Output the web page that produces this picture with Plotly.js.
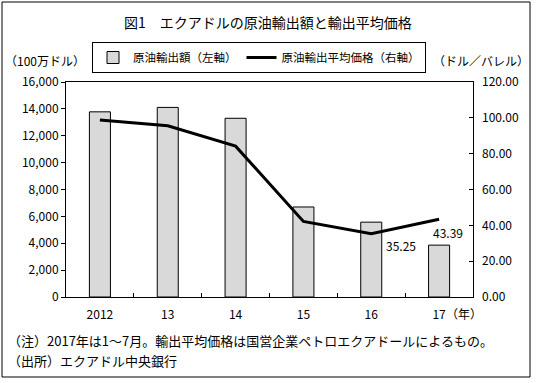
<!DOCTYPE html>
<html>
<head>
<meta charset="utf-8">
<script src="https://cdn.plot.ly/plotly-3.0.1.min.js"></script>
<style>html,body{margin:0;padding:0;background:#fff}#chart{width:536px;height:383px}</style>
</head>
<body>
<div id="chart"></div>
<script>
const years = ["2012", "13", "14", "15", "16", "17"];
const exportValue = [13780, 14110, 13300, 6700, 5570, 3860];   // 100万ドル (left axis)
const avgPrice = [98.8, 95.6, 84.2, 42.2, 35.25, 43.39];        // ドル/バレル (right axis)
const priceLabels = ["", "", "", "", "35.25", "43.39"];
const leftTicks = [0, 2000, 4000, 6000, 8000, 10000, 12000, 14000, 16000];
const rightTicks = [0, 20, 40, 60, 80, 100, 120];

const FONT = "Noto Sans CJK JP, sans-serif";
const L = 66, R = 473, T = 82, B = 297;
const W = R - L, H = B - T;
const px = x => (x - L) / W;
const py = y => (B - y) / H;

const traces = [
  {
    type: "bar", x: years, y: exportValue, name: "原油輸出額（左軸）",
    marker: {color: "#d9d9d9", line: {color: "#000", width: 1}},
    yaxis: "y", hoverinfo: "skip"
  },
  {
    type: "scatter", mode: "lines", x: years, y: avgPrice, name: "原油輸出平均価格（右軸）",
    line: {color: "#000", width: 3}, yaxis: "y2", hoverinfo: "skip"
  }
];

const annotations = [
  {xref: "paper", yref: "paper", x: px(268), y: py(22), text: "図1　エクアドルの原油輸出額と輸出平均価格",
   showarrow: false, font: {size: 14, family: FONT, color: "#000"}, xanchor: "center", yanchor: "middle"},
  {xref: "paper", yref: "paper", x: px(3), y: py(60), text: "（100万ドル）", showarrow: false,
   font: {size: 12, family: FONT, color: "#000"}, xanchor: "left", yanchor: "middle"},
  {xref: "paper", yref: "paper", x: px(531), y: py(60), text: "（ドル／バレル）", showarrow: false,
   font: {size: 12, family: FONT, color: "#000"}, xanchor: "right", yanchor: "middle"},
  {xref: "paper", yref: "paper", x: px(444), y: py(313), text: "（年）", showarrow: false,
   font: {size: 12, family: FONT, color: "#000"}, xanchor: "left", yanchor: "middle"},
  {xref: "x", yref: "y2", x: 4, y: avgPrice[4], text: priceLabels[4], showarrow: false,
   font: {size: 12, family: FONT, color: "#000"}, xanchor: "left", yanchor: "top", xshift: 13, yshift: -1},
  {xref: "x", yref: "y2", x: 5, y: avgPrice[5], text: priceLabels[5], showarrow: false,
   font: {size: 12, family: FONT, color: "#000"}, xanchor: "left", yanchor: "top", xshift: -8, yshift: -3},
  {xref: "paper", yref: "paper", x: px(6), y: py(340),
   text: "（注）2017年は1～7月。輸出平均価格は国営企業ペトロエクアドールによるもの。",
   showarrow: false, font: {size: 13, family: FONT, color: "#000"}, xanchor: "left", yanchor: "middle"},
  {xref: "paper", yref: "paper", x: px(6), y: py(360),
   text: "（出所）エクアドル中央銀行",
   showarrow: false, font: {size: 13, family: FONT, color: "#000"}, xanchor: "left", yanchor: "middle"}
];

const layout = {
  width: 536, height: 383,
  margin: {l: L, r: 536 - R, t: T, b: 383 - B, pad: 0},
  paper_bgcolor: "#fff", plot_bgcolor: "#fff",
  font: {family: FONT, size: 12, color: "#000"},
  showlegend: true,
  legend: {
    orientation: "h", x: px(92), y: py(42), xanchor: "left", yanchor: "top",
    bordercolor: "#000", borderwidth: 1, bgcolor: "#fff",
    font: {size: 11.5, family: FONT, color: "#000"}, traceorder: "normal", itemwidth: 30
  },
  bargap: 0.69,
  xaxis: {
    type: "category", range: [-0.5, 5.5], autorange: false, showline: true, linecolor: "#000", linewidth: 1, mirror: true,
    ticks: "inside", tickson: "boundaries", ticklen: 4, tickcolor: "#000", tickangle: 0, ticklabelstandoff: 7,
    showgrid: false, zeroline: false, tickfont: {size: 12, family: FONT}, fixedrange: true
  },
  yaxis: {
    range: [0, 16000], autorange: false, tickvals: leftTicks, tickformat: ",", showline: true, linecolor: "#000",
    linewidth: 1, mirror: true, ticks: "outside", ticklen: 4, tickcolor: "#000",
    showgrid: false, zeroline: false, tickfont: {size: 12, family: FONT}, fixedrange: true
  },
  yaxis2: {
    overlaying: "y", side: "right", range: [0, 120], autorange: false, tickvals: rightTicks, tickformat: ".2f",
    ticks: "inside", ticklen: 4, tickcolor: "#000", showline: false,
    showgrid: false, zeroline: false, tickfont: {size: 12, family: FONT}, fixedrange: true, ticklabelstandoff: 8
  },
  annotations: annotations,
  shapes: [
    {type: "rect", xref: "paper", yref: "paper", x0: px(2), x1: px(530), y0: py(377), y1: py(2),
     line: {color: "#000", width: 1}, fillcolor: "rgba(0,0,0,0)", layer: "above"}
  ]
};

Plotly.newPlot("chart", traces, layout, {staticPlot: true, displayModeBar: false});
</script>
</body>
</html>
